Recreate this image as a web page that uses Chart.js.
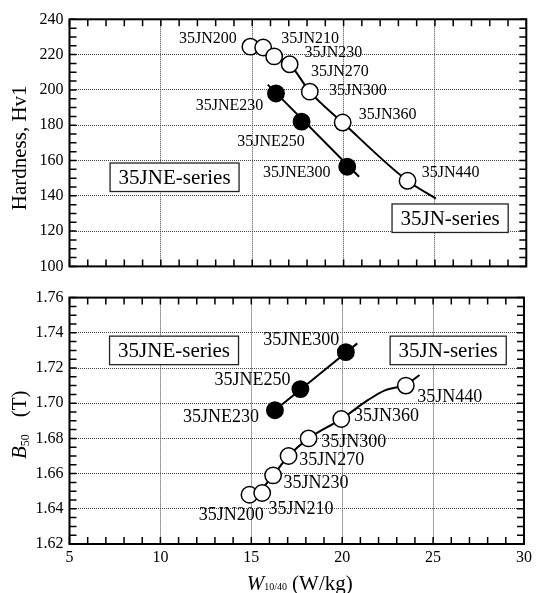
<!DOCTYPE html>
<html>
<head>
<meta charset="utf-8">
<script src="https://cdn.jsdelivr.net/npm/chart.js@4.4.1/dist/chart.umd.min.js"></script>
<style>
  html, body { margin: 0; padding: 0; background: #fff; }
  canvas { display: block; }
  #wrap { width: 536px; height: 593px; }
</style>
</head>
<body>
<div id="wrap">
  <canvas id="hv" width="536" height="282"></canvas>
  <canvas id="b50" width="536" height="311"></canvas>
</div>
<script>
// ---- grades ----
const gradesJN  = ['35JN200', '35JN210', '35JN230', '35JN270', '35JN300', '35JN360', '35JN440'];
const gradesJNE = ['35JNE230', '35JNE250', '35JNE300'];

// ---- iron loss W10/40 (W/kg) ----
const lossJN  = [14.9, 15.6, 16.2, 17.05, 18.15, 19.95, 23.5];
const lossJNE = [16.3, 17.7, 20.2];

// ---- hardness Hv1 ----
const hvJN  = [224.5, 224, 219, 214.5, 199, 181.5, 148.5];
const hvJNE = [198, 182, 156.5];

// ---- magnetic flux density B50 (T) ----
const b50JN  = [1.648, 1.649, 1.659, 1.670, 1.680, 1.691, 1.710];
const b50JNE = [1.696, 1.708, 1.729];

// ---- trend lines ----
const trendHvJN_x  = [15.6, 16.2, 17.05, 18.15, 19.95, 23.5, 25.05];
const trendHvJN_y  = [224, 219, 214.5, 199, 181.5, 148.5, 138.4];
const trendHvJNE_x = [15.85, 20.85];
const trendHvJNE_y = [203, 150.8];
const trendBJN_x   = [15.5, 16.2, 17.05, 18.15, 19.95, 21.45, 22.35, 23.5, 24.25];
const trendBJN_y   = [1.650, 1.659, 1.670, 1.680, 1.691, 1.702, 1.7073, 1.7105, 1.716];
const trendBJNE_x  = [16.3, 20.83];
const trendBJNE_y  = [1.696, 1.734];

// ---- axis ticks ----
const wTicks   = [5, 10, 15, 20, 25, 30];
const hvTicks  = [100, 120, 140, 160, 180, 200, 220, 240];
const b50Ticks = [1.62, 1.64, 1.66, 1.68, 1.70, 1.72, 1.74, 1.76];

// ---- series captions ----
const seriesNames = ['35JNE-series', '35JN-series'];

const serif = '"Liberation Serif", "Times New Roman", Times, serif';
const gridColor = '#444';

const pts = (xs, ys) => xs.map((x, i) => ({ x, y: ys[i] }));

// label placement around each marker: [align, dx, dy] in pixels
const hvLabelPos = {
  '35JN200': ['right', -13.7, -7.4], '35JN210': ['left', 18, -9],
  '35JN230': ['left', 30.4, -3.4],   '35JN270': ['left', 21.4, 7.4],
  '35JN300': ['left', 19.3, -1.3],   '35JN360': ['left', 16, -8],
  '35JN440': ['left', 14.3, -8.3],
  '35JNE230': ['right', -12.7, 12.4], '35JNE250': ['right', 3.3, 19.7],
  '35JNE300': ['right', -16.7, 6]
};
const bLabelPos = {
  '35JN200': ['right', 14.3, 21],  '35JN210': ['left', 6.3, 16.3],
  '35JN230': ['left', 10.3, 8.4],  '35JN270': ['left', 10.7, 4.7],
  '35JN300': ['left', 12.7, 4.3],  '35JN360': ['left', 12.7, -3],
  '35JN440': ['left', 11.3, 12],
  '35JNE230': ['right', -16, 7.3], '35JNE250': ['right', -10, -9.3],
  '35JNE300': ['right', -6.6, -11.6]
};

function datasets(yJN, yJNE, tJNx, tJNy, tJNEx, tJNEy) {
  const marker = { pointRadius: 8.2, pointBorderWidth: 1.5, pointBorderColor: '#000', showLine: false, order: 0 };
  const line = { showLine: true, pointRadius: 0, borderColor: '#000', borderWidth: 2,
                 cubicInterpolationMode: 'monotone', fill: false, order: 1 };
  return [
    Object.assign({ label: 'JN', data: pts(lossJN, yJN), pointBackgroundColor: '#fff' }, marker),
    Object.assign({ label: 'JNE', data: pts(lossJNE, yJNE), pointBackgroundColor: '#000' }, marker),
    Object.assign({ label: 'JN trend', data: pts(tJNx, tJNy) }, line),
    Object.assign({ label: 'JNE trend', data: pts(tJNEx, tJNEy) }, line)
  ];
}

function drawPieces(ctx, pieces, x, y) {
  // pieces: [text, font, dy, extraGapAfter]
  let cx = x;
  for (const [t, f, dy, gap] of pieces) {
    ctx.font = f;
    ctx.fillText(t, cx, y + dy);
    cx += ctx.measureText(t).width + (gap || 0);
  }
}
function piecesWidth(ctx, pieces) {
  let w = 0;
  for (const [t, f, dy, gap] of pieces) { ctx.font = f; w += ctx.measureText(t).width + (gap || 0); }
  return w;
}

function decor(cfg) {
  return {
    id: 'decor',
    afterDraw(chart) {
      const { ctx, chartArea: a, scales: { x, y } } = chart;
      ctx.save();

      // inward minor ticks on all four sides
      ctx.strokeStyle = '#000';
      ctx.lineWidth = 1.5;
      ctx.beginPath();
      const nx = Math.round((x.max - x.min) / cfg.xMinor);
      for (let i = 0; i <= nx; i++) {
        const px = x.getPixelForValue(x.min + i * cfg.xMinor);
        ctx.moveTo(px, a.top); ctx.lineTo(px, a.top + 7);
        ctx.moveTo(px, a.bottom); ctx.lineTo(px, a.bottom - 7);
      }
      const ny = Math.round((y.max - y.min) / cfg.yMinor);
      for (let i = 0; i <= ny; i++) {
        const py = y.getPixelForValue(y.min + i * cfg.yMinor);
        ctx.moveTo(a.left, py); ctx.lineTo(a.left + 7, py);
        ctx.moveTo(a.right, py); ctx.lineTo(a.right - 7, py);
      }
      ctx.stroke();

      // plot frame
      ctx.lineWidth = 2;
      ctx.strokeRect(a.left, a.top, a.right - a.left, a.bottom - a.top);

      // grade labels next to the markers
      ctx.fillStyle = '#000';
      ctx.textBaseline = 'middle';
      ctx.font = cfg.labelSize + 'px ' + serif;
      [[0, gradesJN], [1, gradesJNE]].forEach(([di, names]) => {
        const meta = chart.getDatasetMeta(di);
        names.forEach((name, j) => {
          const el = meta.data[j];
          const [align, dx, dy] = cfg.labelPos[name];
          ctx.textAlign = align;
          ctx.fillText(name, el.x + dx, el.y + dy);
        });
      });

      // series caption boxes
      ctx.font = '21px ' + serif;
      ctx.textAlign = 'center';
      cfg.boxes.forEach(b => {
        const cx = x.getPixelForValue(b.x), cy = y.getPixelForValue(b.y);
        const w = ctx.measureText(b.text).width + 17, h = 28.5;
        ctx.fillStyle = '#fff';
        ctx.fillRect(cx - w / 2, cy - h / 2, w, h);
        ctx.strokeStyle = '#222';
        ctx.lineWidth = 1.3;
        ctx.strokeRect(cx - w / 2, cy - h / 2, w, h);
        ctx.fillStyle = '#000';
        ctx.fillText(b.text, cx, cy + 1);
      });

      // vertical axis title
      ctx.textBaseline = 'alphabetic';
      ctx.textAlign = 'left';
      ctx.save();
      ctx.translate(25.5, (a.top + a.bottom) / 2 + cfg.yTitleShift);
      ctx.rotate(-Math.PI / 2);
      const tw = piecesWidth(ctx, cfg.yTitle);
      drawPieces(ctx, cfg.yTitle, -tw / 2, 0);
      ctx.restore();

      // horizontal axis title
      if (cfg.xTitle) {
        const w = piecesWidth(ctx, cfg.xTitle);
        drawPieces(ctx, cfg.xTitle, (a.left + a.right) / 2 - w / 2 + 3, a.bottom + 45.5);
      }
      ctx.restore();
    }
  };
}

function options(o) {
  return {
    responsive: false,
    animation: false,
    devicePixelRatio: 1,
    layout: { padding: o.padding },
    plugins: { legend: { display: false }, tooltip: { enabled: false } },
    scales: {
      x: {
        type: 'linear', min: 5, max: 30,
        afterBuildTicks: s => { s.ticks = wTicks.map(v => ({ value: v })); },
        afterFit: s => { s.height = o.xHeight; },
        grid: { color: gridColor, lineWidth: 1, drawTicks: false },
        border: { display: false, dash: [1, 1] },
        ticks: { display: o.xLabels, padding: 4, color: '#000', font: { family: serif, size: 16 } }
      },
      y: {
        type: 'linear', min: o.yTicks[0], max: o.yTicks[o.yTicks.length - 1],
        afterBuildTicks: s => { s.ticks = o.yTicks.map(v => ({ value: v })); },
        afterFit: s => { s.width = 69.5; },
        grid: { color: gridColor, lineWidth: 1, drawTicks: false },
        border: { display: false, dash: [1, 1] },
        ticks: { padding: 6, color: '#000', font: { family: serif, size: 16 }, callback: o.fmt }
      }
    }
  };
}

// ---- hardness vs iron loss ----
new Chart(document.getElementById('hv'), {
  type: 'scatter',
  data: { datasets: datasets(hvJN, hvJNE, trendHvJN_x, trendHvJN_y, trendHvJNE_x, trendHvJNE_y) },
  options: options({
    padding: { top: 19.3, right: 9.5, bottom: 11.3, left: 0 },
    xHeight: 0, xLabels: false, yTicks: hvTicks, fmt: v => String(v)
  }),
  plugins: [decor({
    xMinor: 1, yMinor: 5, labelSize: 16, labelPos: hvLabelPos,
    boxes: [{ text: seriesNames[0], x: 10.75, y: 150.5 }, { text: seriesNames[1], x: 25.83, y: 127.3 }],
    yTitle: [['Hardness, Hv1', '21px ' + serif, 0, 0]],
    yTitleShift: 5
  })]
});

// ---- B50 vs iron loss ----
new Chart(document.getElementById('b50'), {
  type: 'scatter',
  data: { datasets: datasets(b50JN, b50JNE, trendBJN_x, trendBJN_y, trendBJNE_x, trendBJNE_y) },
  options: options({
    padding: { top: 10.7, right: 9.5, bottom: 0, left: 0 },
    xHeight: 49, xLabels: true, yTicks: b50Ticks, fmt: v => v.toFixed(2)
  }),
  plugins: [decor({
    xMinor: 1, yMinor: 0.005, labelSize: 18, labelPos: bLabelPos,
    boxes: [{ text: seriesNames[0], x: 10.75, y: 1.730 }, { text: seriesNames[1], x: 25.83, y: 1.730 }],
    yTitle: [['B', 'italic 21px ' + serif, 0, 0], ['50', '12px ' + serif, 3, 17], ['(T)', '21px ' + serif, 0, 0]],
    yTitleShift: 4,
    xTitle: [['W', 'italic 21px ' + serif, 0, 0], ['10/40', '10px ' + serif, 0, 5], ['(W/kg)', '21px ' + serif, 0, 0]]
  })]
});
</script>
</body>
</html>
